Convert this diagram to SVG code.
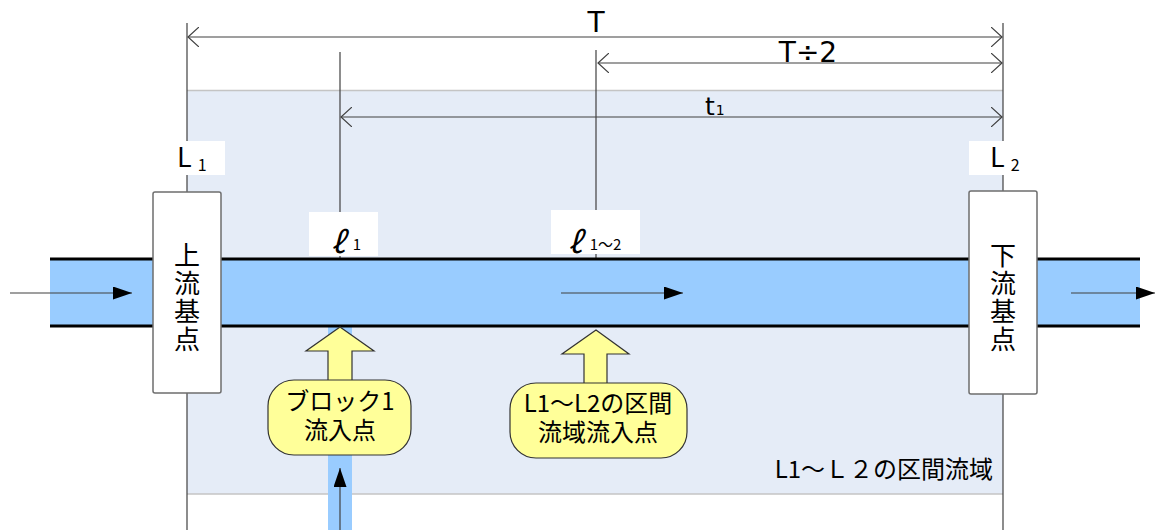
<svg xmlns="http://www.w3.org/2000/svg" width="1157" height="530" viewBox="0 0 1157 530">
<defs>
<style>
text{font-family:"Noto Sans CJK JP","Noto Sans",sans-serif;fill:#000}
.lat{font-family:"DejaVu Sans","Noto Sans CJK JP",sans-serif}
.vert{writing-mode:vertical-rl;letter-spacing:2px}
.dim{stroke:#404040;stroke-width:1.2;fill:none}
.flow{stroke:#404040;stroke-width:1.2}
.bank{stroke:#000;stroke-width:3}
.node{fill:#fff;stroke:#6e6e6e;stroke-width:1.5}
.ybox{fill:#FFFF99;stroke:#333;stroke-width:1.2}
.lbl{fill:#fff}
</style>
<marker id="open" viewBox="0 0 12 20" refX="11" refY="10" markerWidth="12" markerHeight="20" markerUnits="userSpaceOnUse" orient="auto-start-reverse">
<path d="M0,0 L11,10 L0,20" fill="none" stroke="#404040" stroke-width="1.2"/>
</marker>
<marker id="solid" viewBox="0 0 19 13" refX="19" refY="6.5" markerWidth="19" markerHeight="13" markerUnits="userSpaceOnUse" orient="auto">
<path d="M0,0 L19,6.5 L0,13 Z" fill="#000"/>
</marker>
</defs>

<g id="basin">
<rect x="187" y="90" width="816" height="404" fill="#E5ECF7"/>
<line x1="187" y1="90.5" x2="1003" y2="90.5" stroke="#C4C4C4" stroke-width="1.5"/>
<line x1="187" y1="494" x2="1003" y2="494" stroke="#C4C4C4" stroke-width="1.5"/>
<text x="993" y="478" font-size="24" text-anchor="end">L1～Ｌ２の区間流域</text>
</g>

<g id="connectors">
<line class="dim" x1="187" y1="23" x2="187" y2="530"/>
<line class="dim" x1="1003" y1="23" x2="1003" y2="530"/>
<line class="dim" x1="340" y1="52" x2="340" y2="259"/>
<line class="dim" x1="596" y1="50" x2="596" y2="259"/>
<line class="dim" x1="188" y1="37" x2="1002" y2="37" marker-start="url(#open)" marker-end="url(#open)"/>
<line class="dim" x1="598" y1="63" x2="1002" y2="63" marker-start="url(#open)" marker-end="url(#open)"/>
<line class="dim" x1="341" y1="117" x2="1002" y2="117" marker-start="url(#open)" marker-end="url(#open)"/>
</g>

<g id="dim-labels">
<text class="lat" x="596" y="32" font-size="28" text-anchor="middle">T</text>
<text class="lat" x="808" y="62" font-size="28" text-anchor="middle">T÷2</text>
<text class="lat" x="705" y="115" font-size="25">t<tspan font-size="14" dx="1">1</tspan></text>
</g>

<g id="river">
<rect x="328" y="326" width="24" height="204" fill="#99CCFF"/>
<rect x="50" y="259" width="1090" height="67" fill="#99CCFF"/>
<line class="bank" x1="50" y1="259" x2="1140" y2="259"/>
<line class="bank" x1="50" y1="326" x2="1140" y2="326"/>
<line class="flow" x1="10" y1="293" x2="132" y2="293" marker-end="url(#solid)"/>
<line class="flow" x1="561" y1="293" x2="683" y2="293" marker-end="url(#solid)"/>
<line class="flow" x1="1071" y1="293" x2="1155" y2="293" marker-end="url(#solid)"/>
<line class="flow" x1="340" y1="530" x2="340" y2="468" marker-end="url(#solid)"/>
</g>

<g id="label-L1">
<rect class="lbl" x="175" y="141" width="50" height="34"/>
<text x="177" y="167" font-size="27">L<tspan font-size="16" dx="6" dy="4">1</tspan></text>
</g>
<g id="label-L2">
<rect class="lbl" x="969" y="141" width="53" height="34"/>
<text x="990" y="167" font-size="27">L<tspan font-size="16" dx="6" dy="4">2</tspan></text>
</g>
<g id="label-l1">
<rect class="lbl" x="309" y="212" width="69" height="44"/>
<text x="331" y="253" font-size="30" font-style="italic">ℓ<tspan font-size="15" font-style="normal" dx="8" dy="-3">1</tspan></text>
</g>
<g id="label-l12">
<rect class="lbl" x="551" y="210" width="89" height="44"/>
<text x="568" y="253" font-size="30" font-style="italic">ℓ<tspan font-size="15" font-style="normal" dx="8" dy="-3">1～2</tspan></text>
</g>

<g id="upstream">
<rect class="node" x="153" y="192" width="68" height="201" rx="2"/>
<text class="vert" x="187" y="242" font-size="26">上流基点</text>
</g>
<g id="downstream">
<rect class="node" x="969" y="191" width="68" height="203" rx="2"/>
<text class="vert" x="1003" y="242" font-size="26">下流基点</text>
</g>

<g id="block1-inflow">
<polygon class="ybox" points="340,327 374,351 352,351 352,382 328,382 328,351 306,351"/>
<rect class="ybox" x="268" y="380" width="143" height="75" rx="26"/>
<text font-size="24" text-anchor="middle"><tspan x="340" y="410">ブロック1</tspan><tspan x="340" y="439">流入点</tspan></text>
</g>
<g id="section-inflow">
<polygon class="ybox" points="596,330 629,354 607,354 607,385 584,385 584,354 562,354"/>
<rect class="ybox" x="510" y="383" width="177" height="75" rx="26"/>
<text font-size="24" text-anchor="middle"><tspan x="598" y="412">L1～L2の区間</tspan><tspan x="598" y="441">流域流入点</tspan></text>
</g>
</svg>
